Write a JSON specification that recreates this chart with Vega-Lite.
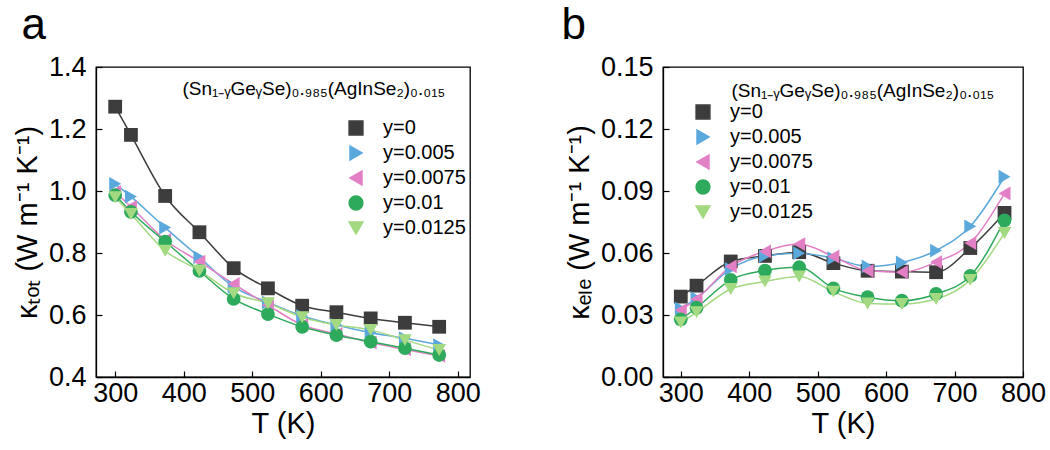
{
  "$schema": "https://vega.github.io/schema/vega-lite/v6.json",
  "background": "white",
  "padding": {"left": 12, "top": 3, "right": 5, "bottom": 0},
  "datasets": {
    "tot": [
      {"T": 300, "k": 1.272, "s": "y=0"}, {"T": 323, "k": 1.181, "s": "y=0"}, {"T": 373, "k": 0.984, "s": "y=0"}, {"T": 423, "k": 0.867, "s": "y=0"}, {"T": 473, "k": 0.751, "s": "y=0"}, {"T": 523, "k": 0.686, "s": "y=0"}, {"T": 573, "k": 0.630, "s": "y=0"}, {"T": 623, "k": 0.609, "s": "y=0"}, {"T": 673, "k": 0.589, "s": "y=0"}, {"T": 723, "k": 0.575, "s": "y=0"}, {"T": 773, "k": 0.562, "s": "y=0"},
      {"T": 300, "k": 1.023, "s": "y=0.005"}, {"T": 323, "k": 0.982, "s": "y=0.005"}, {"T": 373, "k": 0.882, "s": "y=0.005"}, {"T": 423, "k": 0.786, "s": "y=0.005"}, {"T": 473, "k": 0.691, "s": "y=0.005"}, {"T": 523, "k": 0.641, "s": "y=0.005"}, {"T": 573, "k": 0.597, "s": "y=0.005"}, {"T": 623, "k": 0.568, "s": "y=0.005"}, {"T": 673, "k": 0.543, "s": "y=0.005"}, {"T": 723, "k": 0.525, "s": "y=0.005"}, {"T": 773, "k": 0.503, "s": "y=0.005"},
      {"T": 300, "k": 0.997, "s": "y=0.0075"}, {"T": 323, "k": 0.949, "s": "y=0.0075"}, {"T": 373, "k": 0.842, "s": "y=0.0075"}, {"T": 423, "k": 0.772, "s": "y=0.0075"}, {"T": 473, "k": 0.700, "s": "y=0.0075"}, {"T": 523, "k": 0.632, "s": "y=0.0075"}, {"T": 573, "k": 0.568, "s": "y=0.0075"}, {"T": 623, "k": 0.539, "s": "y=0.0075"}, {"T": 673, "k": 0.511, "s": "y=0.0075"}, {"T": 723, "k": 0.489, "s": "y=0.0075"}, {"T": 773, "k": 0.468, "s": "y=0.0075"},
      {"T": 300, "k": 0.987, "s": "y=0.01"}, {"T": 323, "k": 0.933, "s": "y=0.01"}, {"T": 373, "k": 0.837, "s": "y=0.01"}, {"T": 423, "k": 0.742, "s": "y=0.01"}, {"T": 473, "k": 0.652, "s": "y=0.01"}, {"T": 523, "k": 0.603, "s": "y=0.01"}, {"T": 573, "k": 0.562, "s": "y=0.01"}, {"T": 623, "k": 0.535, "s": "y=0.01"}, {"T": 673, "k": 0.514, "s": "y=0.01"}, {"T": 723, "k": 0.493, "s": "y=0.01"}, {"T": 773, "k": 0.471, "s": "y=0.01"},
      {"T": 300, "k": 0.980, "s": "y=0.0125"}, {"T": 323, "k": 0.926, "s": "y=0.0125"}, {"T": 373, "k": 0.807, "s": "y=0.0125"}, {"T": 423, "k": 0.743, "s": "y=0.0125"}, {"T": 473, "k": 0.670, "s": "y=0.0125"}, {"T": 523, "k": 0.638, "s": "y=0.0125"}, {"T": 573, "k": 0.593, "s": "y=0.0125"}, {"T": 623, "k": 0.568, "s": "y=0.0125"}, {"T": 673, "k": 0.552, "s": "y=0.0125"}, {"T": 723, "k": 0.519, "s": "y=0.0125"}, {"T": 773, "k": 0.487, "s": "y=0.0125"}
    ],
    "ele": [
      {"T": 300, "k": 0.0389, "s": "y=0"}, {"T": 323, "k": 0.0442, "s": "y=0"}, {"T": 373, "k": 0.0559, "s": "y=0"}, {"T": 423, "k": 0.0586, "s": "y=0"}, {"T": 473, "k": 0.0604, "s": "y=0"}, {"T": 523, "k": 0.0551, "s": "y=0"}, {"T": 573, "k": 0.0514, "s": "y=0"}, {"T": 623, "k": 0.0510, "s": "y=0"}, {"T": 673, "k": 0.0507, "s": "y=0"}, {"T": 723, "k": 0.0624, "s": "y=0"}, {"T": 773, "k": 0.0794, "s": "y=0"},
      {"T": 300, "k": 0.0332, "s": "y=0.005"}, {"T": 323, "k": 0.0381, "s": "y=0.005"}, {"T": 373, "k": 0.0523, "s": "y=0.005"}, {"T": 423, "k": 0.0586, "s": "y=0.005"}, {"T": 473, "k": 0.0599, "s": "y=0.005"}, {"T": 523, "k": 0.0575, "s": "y=0.005"}, {"T": 573, "k": 0.0535, "s": "y=0.005"}, {"T": 623, "k": 0.0554, "s": "y=0.005"}, {"T": 673, "k": 0.0612, "s": "y=0.005"}, {"T": 723, "k": 0.0729, "s": "y=0.005"}, {"T": 773, "k": 0.0969, "s": "y=0.005"},
      {"T": 300, "k": 0.0324, "s": "y=0.0075"}, {"T": 323, "k": 0.0377, "s": "y=0.0075"}, {"T": 373, "k": 0.0535, "s": "y=0.0075"}, {"T": 423, "k": 0.0608, "s": "y=0.0075"}, {"T": 473, "k": 0.0643, "s": "y=0.0075"}, {"T": 523, "k": 0.0583, "s": "y=0.0075"}, {"T": 573, "k": 0.0514, "s": "y=0.0075"}, {"T": 623, "k": 0.0507, "s": "y=0.0075"}, {"T": 673, "k": 0.0556, "s": "y=0.0075"}, {"T": 723, "k": 0.0648, "s": "y=0.0075"}, {"T": 773, "k": 0.0888, "s": "y=0.0075"},
      {"T": 300, "k": 0.0279, "s": "y=0.01"}, {"T": 323, "k": 0.0335, "s": "y=0.01"}, {"T": 373, "k": 0.0470, "s": "y=0.01"}, {"T": 423, "k": 0.0515, "s": "y=0.01"}, {"T": 473, "k": 0.0531, "s": "y=0.01"}, {"T": 523, "k": 0.0429, "s": "y=0.01"}, {"T": 573, "k": 0.0386, "s": "y=0.01"}, {"T": 623, "k": 0.0369, "s": "y=0.01"}, {"T": 673, "k": 0.0402, "s": "y=0.01"}, {"T": 723, "k": 0.0489, "s": "y=0.01"}, {"T": 773, "k": 0.0758, "s": "y=0.01"},
      {"T": 300, "k": 0.0264, "s": "y=0.0125"}, {"T": 323, "k": 0.0313, "s": "y=0.0125"}, {"T": 373, "k": 0.0426, "s": "y=0.0125"}, {"T": 423, "k": 0.0462, "s": "y=0.0125"}, {"T": 473, "k": 0.0486, "s": "y=0.0125"}, {"T": 523, "k": 0.0413, "s": "y=0.0125"}, {"T": 573, "k": 0.0356, "s": "y=0.0125"}, {"T": 623, "k": 0.0353, "s": "y=0.0125"}, {"T": 673, "k": 0.0377, "s": "y=0.0125"}, {"T": 723, "k": 0.0470, "s": "y=0.0125"}, {"T": 773, "k": 0.0697, "s": "y=0.0125"}
    ]
  },
  "hconcat": [
    {
      "width": 374,
      "height": 310,
      "title": {"text": "a", "anchor": "start", "frame": "bounds", "fontSize": 44, "fontWeight": "normal", "font": "Liberation Sans", "offset": 5, "dx": 8},
      "data": {"name": "tot"},
      "layer": [
        {
          "mark": {"type": "line", "interpolate": "monotone", "strokeWidth": 1.5},
          "encoding": {
            "x": {"field": "T", "type": "quantitative", "scale": {"domain": [272, 818], "nice": false, "zero": false}, "axis": {"title": "T (K)", "values": [300, 350, 400, 450, 500, 550, 600, 650, 700, 750, 800], "labelExpr": "datum.value % 100 == 0 ? datum.label : ''"}},
            "y": {"field": "k", "type": "quantitative", "scale": {"domain": [0.4, 1.4], "nice": false, "zero": false}, "axis": {"title": "κₜₒₜ (W m⁻¹ K⁻¹)", "values": [0.4, 0.5, 0.6, 0.7, 0.8, 0.9, 1.0, 1.1, 1.2, 1.3, 1.4], "labelExpr": "round(datum.value*10) % 2 == 0 ? format(datum.value, '.1f') : ''"}},
            "color": {"field": "s", "type": "nominal", "scale": {"domain": ["y=0", "y=0.005", "y=0.0075", "y=0.01", "y=0.0125"], "range": ["#3c3c3c", "#5ba8dc", "#e27fc5", "#2eaa5c", "#a3d980"]}, "legend": {"orient": "none", "legendX": 250, "legendY": 51, "title": null}}
          }
        },
        {
          "mark": {"type": "point", "filled": true, "size": 190, "opacity": 1},
          "encoding": {
            "x": {"field": "T", "type": "quantitative"},
            "y": {"field": "k", "type": "quantitative"},
            "color": {"field": "s", "type": "nominal"},
            "shape": {"field": "s", "type": "nominal", "scale": {"domain": ["y=0", "y=0.005", "y=0.0075", "y=0.01", "y=0.0125"], "range": ["square", "triangle-right", "triangle-left", "circle", "triangle-down"]}, "legend": null}
          }
        },
        {
          "data": {"values": [{}]},
          "mark": {"type": "text", "font": "Liberation Sans", "fontSize": 19, "color": "black", "align": "center"},
          "encoding": {
            "x": {"datum": 590},
            "y": {"datum": 1.328},
            "text": {"value": "(Sn₁₋ᵧGeᵧSe)₀.₉₈₅(AgInSe₂)₀.₀₁₅"}
          }
        }
      ]
    },
    {
      "width": 360,
      "height": 310,
      "title": {"text": "b", "anchor": "start", "frame": "bounds", "fontSize": 44, "fontWeight": "normal", "font": "Liberation Sans", "offset": 5, "dx": -4},
      "data": {"name": "ele"},
      "layer": [
        {
          "mark": {"type": "line", "interpolate": "monotone", "strokeWidth": 1.5},
          "encoding": {
            "x": {"field": "T", "type": "quantitative", "scale": {"domain": [274, 800], "nice": false, "zero": false}, "axis": {"title": "T (K)", "values": [300, 350, 400, 450, 500, 550, 600, 650, 700, 750, 800], "labelExpr": "datum.value % 100 == 0 ? datum.label : ''"}},
            "y": {"field": "k", "type": "quantitative", "scale": {"domain": [0, 0.15], "nice": false}, "axis": {"title": "κₑₗₑ (W m⁻¹ K⁻¹)", "values": [0, 0.015, 0.03, 0.045, 0.06, 0.075, 0.09, 0.105, 0.12, 0.135, 0.15], "labelExpr": "round(datum.value*1000/15) % 2 == 0 ? format(datum.value, '.2f') : ''"}},
            "color": {"field": "s", "type": "nominal", "scale": {"domain": ["y=0", "y=0.005", "y=0.0075", "y=0.01", "y=0.0125"], "range": ["#3c3c3c", "#5ba8dc", "#e27fc5", "#2eaa5c", "#a3d980"]}, "legend": {"orient": "none", "legendX": 30, "legendY": 35, "title": null}}
          }
        },
        {
          "mark": {"type": "point", "filled": true, "size": 190, "opacity": 1},
          "encoding": {
            "x": {"field": "T", "type": "quantitative"},
            "y": {"field": "k", "type": "quantitative"},
            "color": {"field": "s", "type": "nominal"},
            "shape": {"field": "s", "type": "nominal", "scale": {"domain": ["y=0", "y=0.005", "y=0.0075", "y=0.01", "y=0.0125"], "range": ["square", "triangle-right", "triangle-left", "circle", "triangle-down"]}, "legend": null}
          }
        },
        {
          "data": {"values": [{}]},
          "mark": {"type": "text", "font": "Liberation Sans", "fontSize": 19, "color": "black", "align": "center"},
          "encoding": {
            "x": {"datum": 566},
            "y": {"datum": 0.1385},
            "text": {"value": "(Sn₁₋ᵧGeᵧSe)₀.₉₈₅(AgInSe₂)₀.₀₁₅"}
          }
        }
      ]
    }
  ],
  "spacing": 79,
  "resolve": {"scale": {"x": "independent", "y": "independent", "color": "independent", "shape": "independent"}, "legend": {"color": "independent", "shape": "independent"}},
  "config": {
    "view": {"stroke": "black", "strokeWidth": 1.3},
    "axis": {"grid": false, "domainColor": "black", "domainWidth": 1.3, "tickColor": "black", "tickWidth": 1.2, "tickSize": -6, "labelFont": "Liberation Sans", "labelFontSize": 27, "labelColor": "black", "labelPadding": 16, "labelOverlap": false, "labelFlush": false, "titleFont": "Liberation Sans", "titleFontSize": 29, "titleFontWeight": "normal", "titleColor": "black"},
    "axisX": {"titlePadding": 3, "labelPadding": 9},
    "axisY": {"titlePadding": 6},
    "legend": {"labelFont": "Liberation Sans", "labelFontSize": 20, "labelColor": "black", "symbolSize": 190, "rowPadding": 5, "labelOffset": 17, "symbolStrokeWidth": 1.5}
  }
}
